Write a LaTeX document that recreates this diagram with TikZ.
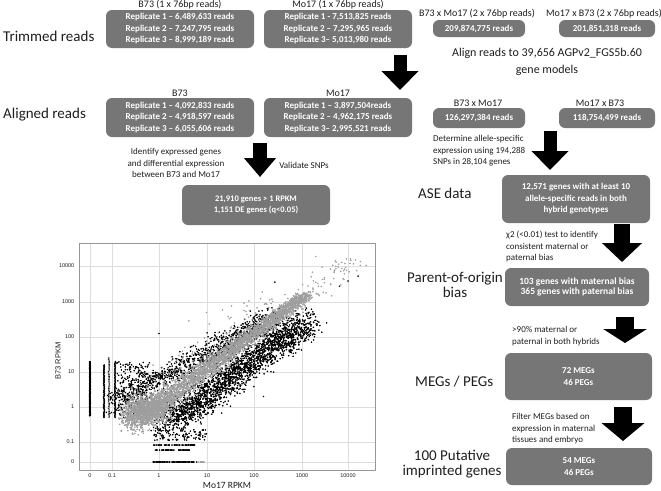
\documentclass[tikz,border=0pt]{standalone}
\usepackage{fontspec}
\setmainfont{Carlito}
\newfontfamily\plotfont{Liberation Sans}
\usetikzlibrary{arrows.meta}

\definecolor{boxgray}{RGB}{118,118,118}
\definecolor{ptgray}{RGB}{158,158,158}
\definecolor{gridgray}{RGB}{222,222,222}
\definecolor{framegray}{RGB}{150,150,150}
\definecolor{txtdark}{RGB}{30,30,30}

\tikzset{
  rbox/.style={fill=boxgray, rounded corners=6pt, text=white, align=center, inner sep=0pt,
    font=\fontsize{9}{11.5}\selectfont\bfseries},
  rtitle/.style={font=\fontsize{10}{12}\selectfont, text=txtdark, inner sep=0pt},
  stage/.style={font=\fontsize{15}{15}\selectfont, text=txtdark, inner sep=0pt, align=center},
  note/.style={font=\fontsize{9}{11.5}\selectfont, text=txtdark, inner sep=0pt, align=left},
  bigarrow/.style={line width=13pt, -{Triangle[width=36pt,length=19pt]}},
  ticklab/.style={font=\plotfont\fontsize{5.5}{6}\selectfont, text=txtdark, inner sep=0pt},
  scatterpts/.style={only marks, mark=*, mark size=0.6pt},
}

\begin{document}
\begin{tikzpicture}[x=1pt,y=-1pt,line cap=butt,line join=round]
  \useasboundingbox (0,0) rectangle (661,490);

  % trimmed reads
  \node[stage, anchor=west] (trimlab) at (3,36) {Trimmed reads};
  \node[rbox, minimum width=148pt, minimum height=38pt] (trimB) at (180,29)
    {Replicate 1 – 6,489,633 reads\\Replicate 2 – 7,247,795 reads\\Replicate 3 – 8,999,189 reads};
  \node[rbox, minimum width=148pt, minimum height=38pt] (trimM) at (338,29)
    {Replicate 1 - 7,513,825 reads\\Replicate 2 – 7,295,965 reads\\Replicate 3– 5,013,980 reads};
  \node[rbox, minimum width=92pt, minimum height=17pt] (trimBM) at (479,28.5) {209,874,775 reads};
  \node[rbox, minimum width=96pt, minimum height=17pt] (trimMB) at (607,28.5) {201,851,318 reads};
  \node[rtitle] (tB) at (180,4.5) {B73 (1 x 76bp reads)};
  \node[rtitle] (tM) at (338,4.5) {Mo17 (1 x 76bp reads)};
  \node[rtitle] (tBM) at (477,14) {B73 x Mo17 (2 x 76bp reads)};
  \node[rtitle] (tMB) at (604,14) {Mo17 x B73 (2 x 76bp reads)};
  \node[font=\fontsize{12}{17}\selectfont, text=txtdark, align=center, inner sep=0pt] (alignnote) at (547,61.5)
    {Align reads to 39,656 AGPv2\_FGS5b.60\\gene models};

  % aligned reads
  \node[stage, anchor=west] (alignlab) at (3,115) {Aligned reads};
  \node[rbox, minimum width=148pt, minimum height=39pt] (alB) at (180,117.5)
    {Replicate 1 – 4,092,833 reads\\Replicate 2 – 4,918,597 reads\\Replicate 3 – 6,055,606 reads};
  \node[rbox, minimum width=148pt, minimum height=39pt] (alM) at (338,117.5)
    {Replicate 1 – 3,897,504reads\\Replicate 2 – 4,962,175 reads\\Replicate 3– 2,995,521 reads};
  \node[rbox, minimum width=92pt, minimum height=20pt] (alBM) at (479,118) {126,297,384 reads};
  \node[rbox, minimum width=96pt, minimum height=20pt] (alMB) at (607,118) {118,754,499 reads};
  \node[rtitle] (aB) at (180,93) {B73};
  \node[rtitle] (aM) at (338,93) {Mo17};
  \node[rtitle] (aBM) at (478,103) {B73 x Mo17};
  \node[rtitle] (aMB) at (600,103) {Mo17 x B73};

  % expression branch
  \node[note, align=center] (idnote) at (176,163)
    {Identify expressed genes\\and differential expression\\between B73 and Mo17};
  \node[note] (snpnote) at (304,165) {Validate SNPs};
  \node[rbox, minimum width=148pt, minimum height=40pt, font=\fontsize{8.5}{11}\selectfont\bfseries] (de) at (256,205)
    {21,910 genes > 1 RPKM\\1,151 DE genes (q<0.05)};

  % allele-specific branch
  \node[note, anchor=west] (asenote) at (433,151)
    {Determine allele-specific\\expression using 194,288\\SNPs in 28,104 genes};
  \node[stage, anchor=west] (aselab) at (418,193) {ASE data};
  \node[rbox, minimum width=148pt, minimum height=48pt] (ase) at (576,199)
    {12,571 genes with at least 10\\allele-specific reads in both\\hybrid genotypes};
  \node[note, anchor=west] (chinote) at (506,246.5)
    {χ2 (<0.01) test to identify\\consistent maternal or\\paternal bias};
  \node[stage] (poblab) at (455,284.5) {Parent-of-origin\\bias};
  \node[rbox, minimum width=144pt, minimum height=38pt, font=\fontsize{9.5}{10.5}\selectfont\bfseries] (pob) at (577,287)
    {103 genes with maternal bias\\365 genes with paternal bias};
  \node[note, anchor=west] (pctnote) at (512,336)
    {>90\% maternal or\\paternal in both hybrids};
  \node[stage, anchor=west] (meglab) at (415,382) {MEGs / PEGs};
  \node[rbox, minimum width=147pt, minimum height=47pt] (megs) at (578.5,376.5) {72 MEGs\\46 PEGs};
  \node[note, anchor=west] (filtnote) at (512,429)
    {Filter MEGs based on\\expression in maternal\\tissues and embryo};
  \node[stage] (implab) at (452,464.5) {100 Putative\\imprinted genes};
  \node[rbox, minimum width=146pt, minimum height=37pt] (imp) at (579,466.5) {54 MEGs\\46 PEGs};

  % block arrows
  \coordinate (a1s) at (400,55);  \coordinate (a1e) at (400,90);
  \coordinate (a2s) at (260,143); \coordinate (a2e) at (260,177);
  \coordinate (a3s) at (550,131); \coordinate (a3e) at (550,170);
  \coordinate (a4s) at (622,224); \coordinate (a4e) at (622,262);
  \coordinate (a5s) at (625,317); \coordinate (a5e) at (625,343);
  \coordinate (a6s) at (623,407); \coordinate (a6e) at (623,441);
  \draw[bigarrow] (a1s) -- (a1e);
  \draw[bigarrow, line width=14pt, -{Triangle[width=31pt,length=19pt]}] (a2s) -- (a2e);
  \draw[bigarrow] (a3s) -- (a3e);
  \draw[bigarrow, line width=16pt, -{Triangle[width=39pt,length=19pt]}] (a4s) -- (a4e);
  \draw[bigarrow, line width=18pt, -{Triangle[width=43pt,length=14pt]}] (a5s) -- (a5e);
  \draw[bigarrow, line width=18pt, -{Triangle[width=42pt,length=18pt]}] (a6s) -- (a6e);

  % scatter plot
  \foreach \gx in {90,112,159,207,254,302,348}
    \draw[gridgray, line width=0.6pt] (\gx,243) -- (\gx,470);
  \foreach \gy in {266,302,337,372,407,442,462}
    \draw[gridgray, line width=0.6pt] (79,\gy) -- (375,\gy);

  \begin{scope}
    \clip (79,243) rectangle (375,470);
    \begin{scope}[shift={(159,407)}, x=47.5pt, y=35pt]
      \pgfmathsetseed{2012}
      % black, off the diagonal
      \draw[black] plot[scatterpts, samples=2200, domain=-0.1:2.8]
        ({\x+0.3+0.24*(rand+rand)},{\x-0.35+0.24*(rand+rand)});
      \draw[black] plot[scatterpts, samples=1000, domain=-0.4:2.5]
        ({\x-max(0.25,0.9-0.3*\x)/2+0.2*(rand+rand)},{\x+max(0.25,0.9-0.3*\x)/2+0.2*(rand+rand)});
      \draw[black] plot[scatterpts, samples=200]
        ({-0.55+0.35*rand},{0.5+0.8*rand});
      \draw[black] plot[scatterpts, samples=160, domain=-0.25:1.3] ({-1.453+0.01*rand},{\x});
      \draw[black] plot[scatterpts, samples=70, domain=-0.3:1.2] ({-1.158+0.01*rand},{\x});
      \draw[black] plot[scatterpts, samples=40, domain=-0.3:1.4] ({-1.053+0.01*rand},{\x});
      \draw[black] plot[scatterpts, samples=60, domain=-0.3:1.3] ({-0.926+0.01*rand},{\x});
      \draw[black] plot[scatterpts, samples=80] ({0.33+0.47*rand},{-1.571});
      \draw[black] plot[scatterpts, samples=50] ({0.32+0.45*rand},{-1.086});
      \draw[black] plot[scatterpts, samples=45] ({0.29+0.37*rand},{-1.23});
      \draw[black] plot[scatterpts, samples=90] ({0.45+0.55*rand},{-0.8+0.15*rand});
      \draw[black] plot[scatterpts] coordinates {
        (3.33,2.37) (4.19,3.74) (3.98,3.6) (2.2,0.3) (2.85,1.83) (2.44,3.57) (0,2.1) (3.8,3.45)
      };
      % grey, along the diagonal
      \draw[ptgray] plot[scatterpts, samples=150, domain=-0.3:2.6]
        ({\x-0.35+0.25*(rand+rand)},{\x+0.35+0.25*(rand+rand)});
      \draw[ptgray] plot[scatterpts, samples=1000]
        ({-0.25+0.3*(rand+rand)},{-0.05+0.25*(rand+rand)});
      \draw[ptgray] plot[scatterpts, samples=3400, domain=-0.6:3.1]
        ({\x+(0.17-0.025*\x)*(rand+rand)},{\x+0.1+(0.17-0.025*\x)*(rand+rand)});
      \draw[ptgray] plot[scatterpts, samples=90, domain=2.6:4.1]
        ({\x+0.25*(rand+rand)},{\x+0.15+0.2*(rand+rand)});
      \draw[ptgray] plot[scatterpts, samples=25, domain=-0.3:1.4] ({-1.053+0.01*rand},{\x});
      \draw[ptgray] plot[scatterpts, samples=12] ({0.85+0.12*rand},{-1.571});
      \draw[ptgray] plot[scatterpts] coordinates {
        (1,2.7) (0.63,2.46) (3.66,4.05) (4.02,4.1) (3.3,4.3)
      };
    \end{scope}
  \end{scope}
  \draw[framegray, line width=0.8pt] (79,243) rectangle (375,470);

  \foreach \gx/\lab in {90/0,112/0.1,159/1,207/10,254/100,302/1000,348/10000}
    \node[ticklab] at (\gx,476) {\lab};
  \foreach \gy/\lab in {266/10000,302/1000,337/100,372/10,407/1,442/0.1,462/0}
    \node[ticklab, anchor=east] at (74.5,\gy) {\lab};
  \node[font=\plotfont\fontsize{7.5}{8}\selectfont, text=txtdark, rotate=90, inner sep=0pt] (ylab) at (58,361) {B73 RPKM};
  \node[font=\fontsize{9.5}{10}\selectfont, text=txtdark, inner sep=0pt] (xlab) at (227,485) {Mo17 RPKM};
\end{tikzpicture}
\end{document}
